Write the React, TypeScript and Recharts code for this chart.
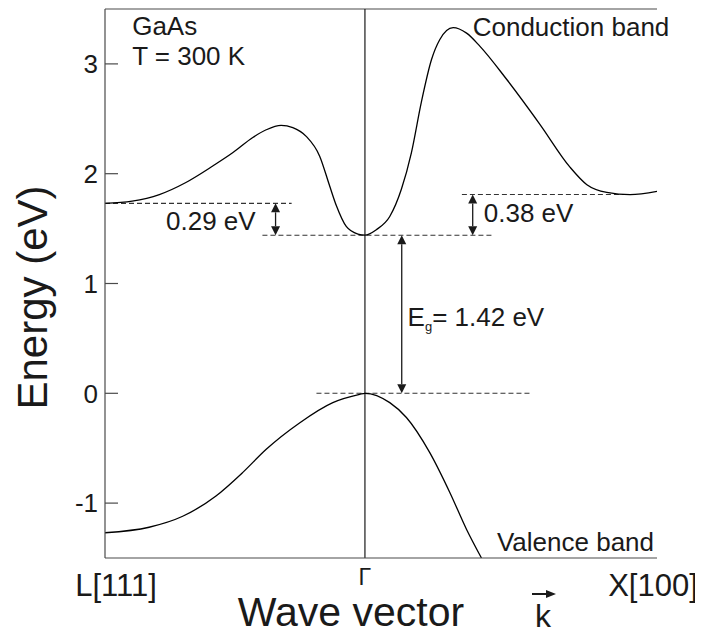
import {
  LineChart,
  Line,
  XAxis,
  YAxis,
  ReferenceLine,
  ReferenceDot,
} from "recharts";

// band edges along the wave vector axis
const edgeLabels = ["L[111]", "Γ", "X[100]"];
const edgeK = [-0.89, 0, 1];

const energyTicks = [-1, 0, 1, 2, 3];
const energyRange = [-1.5, 3.5];

// conduction band
const condK = [
  -0.89, -0.797, -0.704, -0.613, -0.521, -0.453, -0.384, -0.338, -0.287,
  -0.247, -0.201, -0.155, -0.121, -0.098, -0.064, -0.024, 0, 0.039, 0.085,
  0.125, 0.159, 0.193, 0.228, 0.256, 0.302, 0.348, 0.394, 0.485, 0.599,
  0.702, 0.76, 0.828, 0.908, 1,
];
const condE = [
  1.73, 1.75, 1.81, 1.92, 2.07, 2.19, 2.33, 2.4, 2.44, 2.42, 2.34, 2.16,
  1.89, 1.71, 1.52, 1.45, 1.44, 1.49, 1.61, 1.86, 2.19, 2.65, 3.04, 3.22,
  3.33, 3.28, 3.16, 2.86, 2.45, 2.06, 1.9, 1.83, 1.81, 1.84,
];

// valence band
const valK = [
  -0.89, -0.739, -0.624, -0.51, -0.418, -0.338, -0.224, -0.11, -0.018, 0,
  0.085, 0.142, 0.222, 0.291, 0.348, 0.399,
];
const valE = [
  -1.27, -1.22, -1.12, -0.935, -0.72, -0.51, -0.27, -0.085, -0.01, 0,
  -0.085, -0.22, -0.54, -0.905, -1.24, -1.5,
];

// dashed reference levels: energy, start k, end k
const levelE = [1.73, 1.44, 1.81, 0];
const levelFrom = [-0.89, -0.351, 0.332, -0.166];
const levelTo = [-0.251, 0.434, 0.932, 0.565];

// double arrows between levels
const gapK = [-0.306, 0.369, 0.126];
const gapTop = [1.73, 1.81, 1.44];
const gapBottom = [1.44, 1.44, 0];

// text notes inside the frame
const noteText = ["GaAs", "T = 300 K", "Conduction band", "Valence band", "0.29 eV", "0.38 eV"];
const noteK = [-0.797, -0.797, 0.369, 0.452, -0.681, 0.407];
const noteE = [3.26, 2.99, 3.25, -1.44, 1.487, 1.563];

const egK = 0.146;
const egE = 0.613;

const condData = condK.map((k, i) => ({ k, e: condE[i] }));
const valData = valK.map((k, i) => ({ k, e: valE[i] }));

const FONT = "'Liberation Sans', Arial, sans-serif";
const INK = "#1a1a1a";
const AXIS = "#4a4a4a";

const EdgeTick = (props: any) => {
  const { x, y, payload } = props;
  const i = edgeK.indexOf(payload.value);
  const dx = [11, 0, -4][i] ?? 0;
  const dy = [38, 27, 38][i] ?? 36;
  const size = [31, 23, 31][i] ?? 30;
  return (
    <text
      x={x + dx}
      y={y + dy}
      textAnchor="middle"
      fontSize={size}
      fill={INK}
      fontFamily={FONT}
    >
      {edgeLabels[i]}
    </text>
  );
};

const GapArrow = (p: any) => {
  const { x1, y1, y2 } = p;
  const top = Math.min(y1, y2);
  const bot = Math.max(y1, y2);
  const h = 9;
  const w = 4.5;
  return (
    <g>
      <line x1={x1} y1={top + h} x2={x1} y2={bot - h} stroke={INK} strokeWidth={1.3} />
      <polygon points={`${x1},${top} ${x1 - w},${top + h} ${x1 + w},${top + h}`} fill={INK} />
      <polygon points={`${x1},${bot} ${x1 - w},${bot - h} ${x1 + w},${bot - h}`} fill={INK} />
    </g>
  );
};

const XTitle = (props: any) => {
  const vb = props.viewBox || { x: 97, y: 550 };
  const kx = vb.x + 438;
  const ay = vb.y + 36;
  return (
    <g fontFamily={FONT} fill={INK}>
      <text x={vb.x + 246} y={vb.y + 68} textAnchor="middle" fontSize={41}>
        Wave vector
      </text>
      <text x={kx} y={vb.y + 69} textAnchor="middle" fontSize={32}>
        k
      </text>
      <line x1={kx - 11} y1={ay} x2={kx + 4} y2={ay} stroke={INK} strokeWidth={2} />
      <polygon points={`${kx + 13},${ay} ${kx + 3},${ay - 4} ${kx + 3},${ay + 4}`} fill={INK} />
    </g>
  );
};

const YTitle = (props: any) => {
  const vb = props.viewBox || { x: 0, y: 1, width: 97, height: 549 };
  const cx = vb.x + 39;
  const cy = vb.y + vb.height / 2 + 14;
  return (
    <text
      x={cx}
      y={cy}
      transform={`rotate(-90, ${cx}, ${cy})`}
      textAnchor="middle"
      fontSize={42}
      fill={INK}
      fontFamily={FONT}
    >
      Energy (eV)
    </text>
  );
};

export default function App() {
  return (
    <div style={{ width: 695, height: 627 }}>
      <LineChart
        width={695}
        height={627}
        margin={{ top: 1, right: 46, bottom: 0, left: 0 }}
        style={{ fontFamily: FONT }}
      >
        <XAxis
          dataKey="k"
          type="number"
          domain={[edgeK[0], edgeK[2]]}
          ticks={edgeK}
          allowDataOverflow
          height={77}
          tickLine={false}
          tickSize={0}
          tickMargin={0}
          axisLine={{ stroke: AXIS, strokeWidth: 1.2 }}
          tick={<EdgeTick />}
          label={(p: any) => <XTitle {...p} />}
        />
        <YAxis
          type="number"
          domain={energyRange}
          ticks={energyTicks}
          allowDataOverflow
          width={97}
          tickSize={-13}
          tickMargin={20}
          tickLine={{ stroke: AXIS, strokeWidth: 1.2 }}
          axisLine={{ stroke: AXIS, strokeWidth: 1.2 }}
          tick={{ fontSize: 26, fill: INK, fontFamily: FONT }}
          label={(p: any) => <YTitle {...p} />}
        />
        <YAxis
          yAxisId="r"
          orientation="right"
          type="number"
          domain={energyRange}
          ticks={energyTicks}
          allowDataOverflow
          width={0}
          tickSize={-13}
          tick={false}
          tickLine={{ stroke: AXIS, strokeWidth: 1.2 }}
          axisLine={{ stroke: AXIS, strokeWidth: 1.2 }}
        />

        {/* top edge of the frame */}
        <ReferenceLine y={energyRange[1]} stroke={AXIS} strokeWidth={1.2} />
        <ReferenceLine x={0} stroke={INK} strokeWidth={1.2} />

        {levelE.map((e, i) => (
          <ReferenceLine
            key={"lvl" + i}
            segment={[
              { x: levelFrom[i], y: e },
              { x: levelTo[i], y: e },
            ]}
            stroke="#333"
            strokeWidth={1.1}
            strokeDasharray="5 3"
          />
        ))}

        {gapK.map((k, i) => (
          <ReferenceLine
            key={"gap" + i}
            segment={[
              { x: k, y: gapTop[i] },
              { x: k, y: gapBottom[i] },
            ]}
            shape={(p: any) => <GapArrow {...p} />}
          />
        ))}

        <Line
          data={condData}
          dataKey="e"
          type="monotone"
          stroke="#000"
          strokeWidth={1.3}
          dot={false}
          isAnimationActive={false}
        />
        <Line
          data={valData}
          dataKey="e"
          type="monotone"
          stroke="#000"
          strokeWidth={1.3}
          dot={false}
          isAnimationActive={false}
        />

        {noteText.map((t, i) => (
          <ReferenceDot
            key={"note" + i}
            x={noteK[i]}
            y={noteE[i]}
            r={0}
            shape={(p: any) => (
              <text x={p.cx} y={p.cy} fontSize={26} fill={INK} fontFamily={FONT}>
                {t}
              </text>
            )}
          />
        ))}
        <ReferenceDot
          x={egK}
          y={egE}
          r={0}
          shape={(p: any) => (
            <text x={p.cx} y={p.cy} fontSize={26} fill={INK} fontFamily={FONT}>
              E
              <tspan fontSize={13} dy={5}>
                g
              </tspan>
              <tspan dy={-5}>= 1.42 eV</tspan>
            </text>
          )}
        />
      </LineChart>
    </div>
  );
}
